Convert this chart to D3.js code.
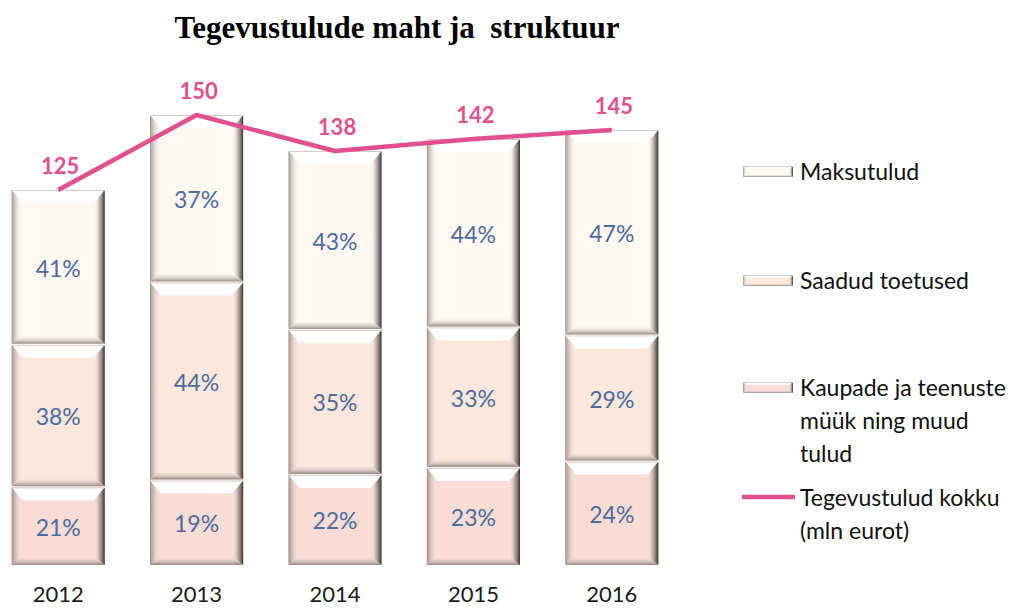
<!DOCTYPE html>
<html>
<head>
<meta charset="utf-8">
<script src="https://cdn.jsdelivr.net/npm/d3@7"></script>
<style>
  html, body { margin: 0; padding: 0; background: #fff; }
  svg { display: block; }
</style>
</head>
<body>
<div id="chart"></div>
<script>
// Data
// ---------------------------------------------------------
const years = ["2012", "2013", "2014", "2015", "2016"];
const totals = [125, 150, 138, 142, 145];
// shares in %, bottom to top
const shareKaubad = [21, 19, 22, 23, 24];
const shareToetused = [38, 44, 35, 33, 29];
const shareMaksud = [41, 37, 43, 44, 47];

const seriesNames = ["Maksutulud", "Saadud toetused", "Kaupade ja teenuste müük ning muud tulud"];
const lineName = "Tegevustulud kokku (mln eurot)";
const title = "Tegevustulude maht ja\u00a0 struktuur";

// Layout
// ---------------------------------------------------------
const width = 1023, height = 609;
const pink = "#e0508f";
const labelBlue = "#4a6ba3";
const segColors = ["#fff8f1", "#fde6da", "#f9dcd4"]; // maksud, toetused, kaubad
const font = "Lato, 'Liberation Sans', sans-serif";

const svg = d3.select("#chart").append("svg")
    .attr("width", width)
    .attr("height", height);

const defs = svg.append("defs");

function grad(id, x2, y2, stops) {
    let g = defs.append("linearGradient").attr("id", id)
        .attr("x1", 0).attr("y1", 0).attr("x2", x2).attr("y2", y2);
    stops.forEach(s => g.append("stop")
        .attr("offset", s[0]).attr("stop-color", s[1]).attr("stop-opacity", s[2]));
}
grad("gLeft", 1, 0, [[0, "#6f6360", 0.65], [1, "#ffffff", 0]]);
grad("gRight", 1, 0, [[0, "#ffffff", 0], [0.5, "#8a7b77", 0.5], [1, "#2e2624", 0.95]]);
grad("gBottom", 0, 1, [[0, "#ffffff", 0], [1, "#5e504c", 0.65]]);
grad("gTop", 0, 1, [[0, "#ffffff", 0.75], [0.2, "#ffffff", 1], [1, "#ffffff", 0.95]]);

// Scales
// ---------------------------------------------------------
const x = d3.scaleBand()
    .domain(years)
    .range([-11, 681])
    .paddingInner(0.327)
    .paddingOuter(0.1635);

const y = d3.scaleLinear()
    .domain([0, 150])
    .range([565, 115]);

// Beveled block
// ---------------------------------------------------------
function bevelBlock(g, x0, y0, w, h, fill, bt, bs, bb) {
    let x1 = x0 + w, y1 = y0 + h;
    let pts = a => a.map(p => p.join(",")).join(" ");
    g.append("rect").attr("x", x0).attr("y", y0).attr("width", w).attr("height", h).attr("fill", fill);
    g.append("polygon").attr("fill", "url(#gTop)")
        .attr("points", pts([[x0, y0], [x1, y0], [x1 - bs, y0 + bt], [x0 + bs, y0 + bt]]));
    g.append("polygon").attr("fill", "url(#gLeft)")
        .attr("points", pts([[x0, y0], [x0 + bs, y0 + bt], [x0 + bs, y1 - bb], [x0, y1]]));
    g.append("polygon").attr("fill", "url(#gRight)")
        .attr("points", pts([[x1, y0], [x1 - bs, y0 + bt], [x1 - bs, y1 - bb], [x1, y1]]));
    g.append("polygon").attr("fill", "url(#gBottom)")
        .attr("points", pts([[x0, y1], [x0 + bs, y1 - bb], [x1 - bs, y1 - bb], [x1, y1]]));
    g.append("line").attr("x1", x0).attr("x2", x1).attr("y1", y0 + 0.5).attr("y2", y0 + 0.5)
        .attr("stroke", "#d8ccc8").attr("stroke-width", 1);
}

// Stacked bars
// ---------------------------------------------------------
const bars = svg.append("g").attr("class", "bars");

years.forEach((yr, i) => {
    let shares = [shareKaubad[i], shareToetused[i], shareMaksud[i]];
    let colors = [segColors[2], segColors[1], segColors[0]];
    let acc = 0;
    shares.forEach((s, k) => {
        let v0 = totals[i] * acc / 100;
        let v1 = totals[i] * (acc + s) / 100;
        acc += s;
        let top = y(v1), bottom = y(v0);
        let g = bars.append("g");
        bevelBlock(g, x(yr), top + (k === 2 ? 0 : 1), x.bandwidth(), bottom - top - (k === 2 ? 0 : 1),
            colors[k], 13, 11, 9);
        g.append("text")
            .attr("x", x(yr) + x.bandwidth() / 2)
            .attr("y", (top + bottom) / 2 + 1)
            .attr("text-anchor", "middle")
            .attr("dominant-baseline", "central")
            .attr("font-family", font)
            .attr("font-size", 23)
            .attr("fill", labelBlue)
            .text(s + "%");
    });
});

// Line
// ---------------------------------------------------------
const lineGen = d3.line()
    .x((d, i) => x(years[i]) + x.bandwidth() / 2)
    .y(d => y(d));

svg.append("path")
    .datum(totals)
    .attr("d", lineGen)
    .attr("fill", "none")
    .attr("stroke", pink)
    .attr("stroke-width", 4.5)
    .attr("stroke-linejoin", "round");

svg.append("g").selectAll("text")
    .data(totals)
    .enter()
    .append("text")
    .attr("x", (d, i) => x(years[i]) + x.bandwidth() / 2 + 2)
    .attr("y", d => y(d) - 25)
    .attr("text-anchor", "middle")
    .attr("dominant-baseline", "central")
    .attr("font-family", font)
    .attr("font-weight", "bold")
    .attr("font-size", 22)
    .attr("fill", pink)
    .text(d => d);

// X axis labels
// ---------------------------------------------------------
svg.append("g").selectAll("text")
    .data(years)
    .enter()
    .append("text")
    .attr("x", d => x(d) + x.bandwidth() / 2)
    .attr("y", 602)
    .attr("text-anchor", "middle")
    .attr("font-family", font)
    .attr("font-size", 22)
    .attr("fill", "#1a1a1a")
    .text(d => d);

// Title
// ---------------------------------------------------------
svg.append("text")
    .attr("x", 397)
    .attr("y", 38)
    .attr("text-anchor", "middle")
    .attr("font-family", "'Liberation Serif', 'Times New Roman', serif")
    .attr("font-weight", "bold")
    .attr("font-size", 31)
    .attr("fill", "#000")
    .text(title);

// Legend
// ---------------------------------------------------------
const legend = svg.append("g").attr("class", "legend");
const legendRows = [
    { lines: ["Maksutulud"], y: 171, color: segColors[0], type: "bar" },
    { lines: ["Saadud toetused"], y: 280, color: segColors[1], type: "bar" },
    { lines: ["Kaupade ja teenuste", "müük ning muud", "tulud"], y: 387, color: segColors[2], type: "bar" },
    { lines: ["Tegevustulud kokku", "(mln eurot)"], y: 497, color: pink, type: "line" }
];

legendRows.forEach(r => {
    if (r.type === "bar") {
        let g = legend.append("g");
        bevelBlock(g, 743, r.y - 5, 50, 11, r.color, 3, 4, 3);
    } else {
        legend.append("line")
            .attr("x1", 742).attr("x2", 795)
            .attr("y1", r.y).attr("y2", r.y)
            .attr("stroke", pink).attr("stroke-width", 4.5);
    }
    r.lines.forEach((t, j) => {
        legend.append("text")
            .attr("x", 800)
            .attr("y", r.y + j * 33)
            .attr("dominant-baseline", "central")
            .attr("font-family", font)
            .attr("font-size", 23)
            .attr("fill", "#111")
            .text(t);
    });
});
</script>
</body>
</html>
